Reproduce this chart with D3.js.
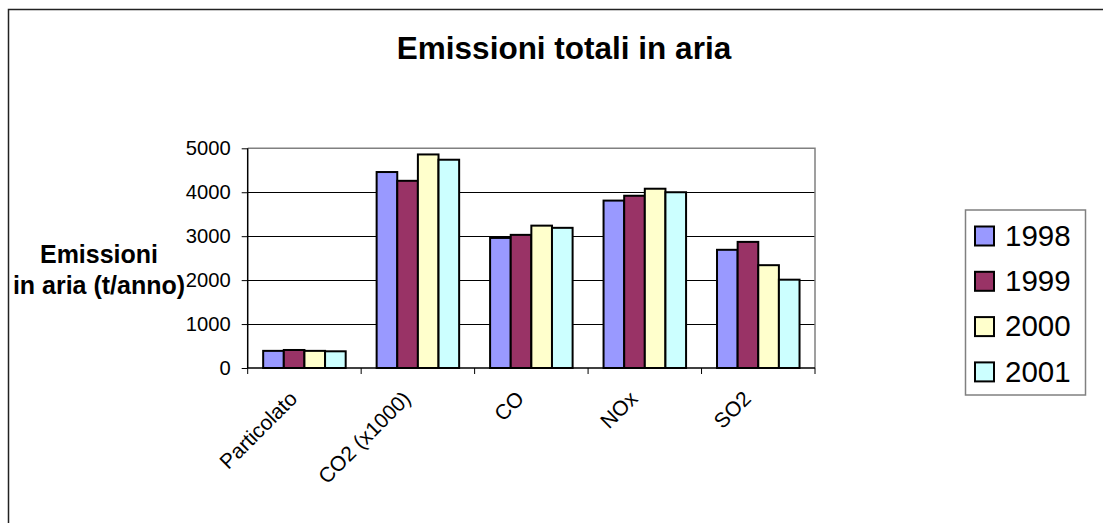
<!DOCTYPE html>
<html>
<head>
<meta charset="utf-8">
<script src="https://cdn.jsdelivr.net/npm/d3@7"></script>
<style>
  html, body { margin: 0; padding: 0; background: #fff; }
  svg { display: block; font-family: "Liberation Sans", Arial, sans-serif; }
</style>
</head>
<body>
<svg id="chart" width="1103" height="523"></svg>
<script>
// ---- data ----
const categories = ["Particolato", "CO2 (x1000)", "CO", "NOx", "SO2"];
const years = ["1998", "1999", "2000", "2001"];
const values1998 = [390, 4460, 2960, 3810, 2690];
const values1999 = [410, 4260, 3030, 3920, 2870];
const values2000 = [390, 4860, 3240, 4080, 2340];
const values2001 = [380, 4740, 3190, 4000, 2010];
const yTicks = [0, 1000, 2000, 3000, 4000, 5000];
const colors = ["#9999FF", "#993366", "#FFFFCC", "#CCFFFF"];
const chartTitle = "Emissioni totali in aria";
const yTitleLines = ["Emissioni", "in aria (t/anno)"];

const seriesValues = [values1998, values1999, values2000, values2001];
const table = categories.map((c, i) => ({
  cat: c,
  vals: years.map((y, j) => ({ year: y, value: seriesValues[j][i] }))
}));

const svg = d3.select("#chart");

// outer chart border
svg.append("rect")
  .attr("x", 8.5).attr("y", 9.5)
  .attr("width", 1120).attr("height", 540)
  .attr("fill", "none").attr("stroke", "#222").attr("stroke-width", 1.5);

const plot = { left: 247.7, right: 815, top: 148.3, bottom: 368 };

const x0 = d3.scaleBand().domain(categories).range([plot.left, plot.right]).padding(0);
const x1 = d3.scaleBand().domain(years).range([0, x0.bandwidth()]).paddingInner(0).paddingOuter(0.75);
const y = d3.scaleLinear().domain([0, 5000]).range([plot.bottom, plot.top]);
const color = d3.scaleOrdinal().domain(years).range(colors);

// gridlines
svg.append("g").selectAll("line")
  .data(yTicks.filter(t => t > 0 && t < 5000))
  .join("line")
  .attr("x1", plot.left).attr("x2", plot.right)
  .attr("y1", d => Math.round(y(d)) + 0.5).attr("y2", d => Math.round(y(d)) + 0.5)
  .attr("stroke", "#000").attr("stroke-width", 1);

// plot border top/right (gray)
svg.append("path")
  .attr("d", `M${plot.left},${plot.top}H${plot.right}V${plot.bottom}`)
  .attr("fill", "none").attr("stroke", "#808080").attr("stroke-width", 1.5);

// bars
const groups = svg.append("g").selectAll("g")
  .data(table).join("g")
  .attr("transform", d => `translate(${x0(d.cat)},0)`);
groups.selectAll("rect")
  .data(d => d.vals).join("rect")
  .attr("x", d => x1(d.year))
  .attr("width", x1.bandwidth())
  .attr("y", d => y(d.value))
  .attr("height", d => y(0) - y(d.value))
  .attr("fill", d => color(d.year))
  .attr("stroke", "#000").attr("stroke-width", 2);

// y axis
const yAxis = d3.axisLeft(y).tickValues(yTicks).tickSize(6).tickPadding(11).tickFormat(d3.format("d"));
const gy = svg.append("g").attr("transform", `translate(${plot.left},0)`).call(yAxis);
gy.select(".domain").attr("stroke", "#000").attr("stroke-width", 1.5).attr("d", `M0,${plot.top}V${plot.bottom}`);
gy.selectAll(".tick line").attr("stroke", "#000");
gy.selectAll(".tick text").attr("font-size", 20.2).attr("fill", "#000")
  .attr("font-family", "'Liberation Sans', Arial, sans-serif");

// x axis (ticks at category boundaries)
const gx = svg.append("g").attr("transform", `translate(0,${plot.bottom})`);
gx.append("line").attr("x1", plot.left).attr("x2", plot.right)
  .attr("y1", 0).attr("y2", 0).attr("stroke", "#000").attr("stroke-width", 1.5);
const boundaries = categories.map(c => x0(c)).concat([plot.right]);
gx.selectAll("line.tk").data(boundaries).join("line").attr("class", "tk")
  .attr("x1", d => d).attr("x2", d => d).attr("y1", 0).attr("y2", 6)
  .attr("stroke", "#000").attr("stroke-width", 1);
gx.selectAll("text").data(categories).join("text")
  .attr("text-anchor", "end")
  .attr("font-size", 21)
  .attr("transform", d => `translate(${x0(d) + x0.bandwidth() / 2 - 6},32) rotate(-45)`)
  .text(d => d);

// title
svg.append("text")
  .attr("x", 564).attr("y", 59)
  .attr("text-anchor", "middle")
  .attr("font-size", 31.5).attr("font-weight", "bold")
  .text(chartTitle);

// y title
svg.append("text")
  .attr("text-anchor", "middle")
  .attr("font-size", 25).attr("font-weight", "bold")
  .selectAll("tspan").data(yTitleLines).join("tspan")
  .attr("x", 99).attr("y", (d, i) => 263 + i * 30.5)
  .text(d => d);

// legend
const lg = svg.append("g");
lg.append("rect")
  .attr("x", 965.5).attr("y", 210).attr("width", 120).attr("height", 185)
  .attr("fill", "#fff").attr("stroke", "#808080").attr("stroke-width", 1.5);
const items = lg.selectAll("g").data(years).join("g")
  .attr("transform", (d, i) => `translate(975,${226.5 + i * 45.3})`);
items.append("rect")
  .attr("width", 19).attr("height", 19)
  .attr("fill", d => color(d)).attr("stroke", "#000").attr("stroke-width", 2);
items.append("text")
  .attr("x", 30).attr("y", 19.3)
  .attr("font-size", 29.5)
  .text(d => d);
</script>
</body>
</html>
